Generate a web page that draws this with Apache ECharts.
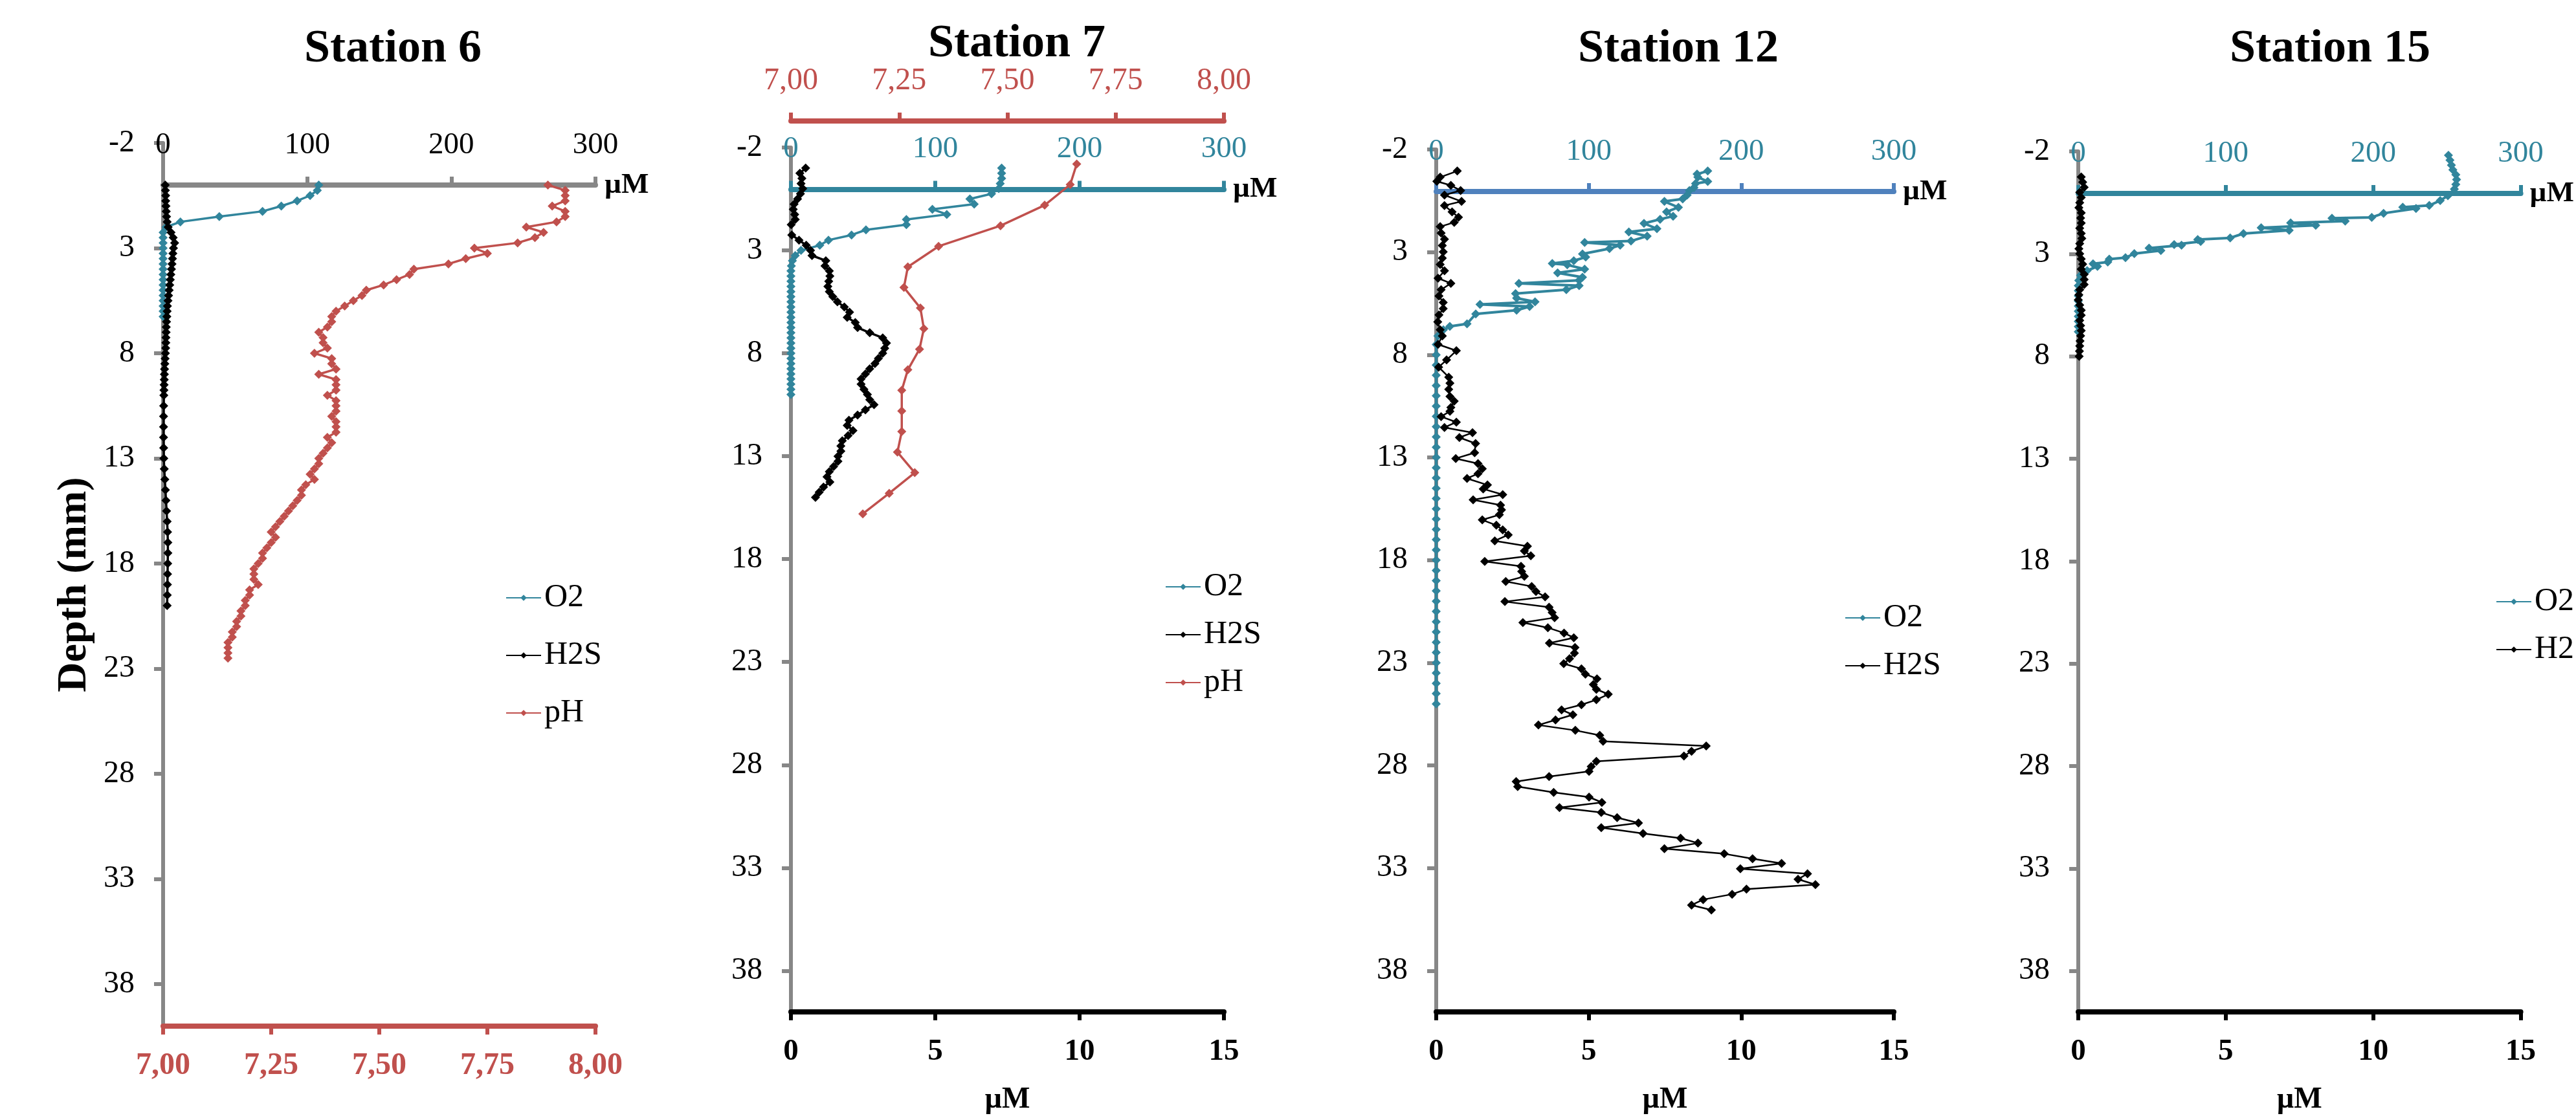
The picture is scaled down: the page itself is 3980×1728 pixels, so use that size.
<!DOCTYPE html>
<html>
<head>
<meta charset="utf-8">
<title>Microprofiles O2 / H2S / pH</title>
<script src="https://cdn.jsdelivr.net/npm/echarts@6/dist/echarts.min.js"></script>
<style>
  html, body { margin: 0; padding: 0; background: #fff; }
  #main { width: 3980px; height: 1728px; }
</style>
</head>
<body>
<div id="main"></div>
<script>
// ---- data (depth in mm, O2 / H2S in µM, pH units) ----
const stations = ['Station 6', 'Station 7', 'Station 12', 'Station 15'];
const depthTicks = [-2, 3, 8, 13, 18, 23, 28, 33, 38];

// Station 6
const s6O2Depth = [0, 0.25, 0.5, 0.75, 1, 1.25, 1.5, 1.75, 2, 2.25, 2.5, 2.75, 3, 3.25, 3.5, 3.75, 4, 4.25, 4.5, 4.75, 5, 5.25, 5.5, 5.75, 6, 6.25];
const s6O2 = [108, 107, 102, 93, 82, 69, 39, 12, 2, 0, 0, 0, 0, 0, 0, 0, 0, 0, 0, 0, 0, 0, 0, 0, 0, 0];
const s6H2SDepth = [0, 0.25, 0.5, 0.75, 1, 1.25, 1.5, 1.75, 2, 2.25, 2.5, 2.75, 3, 3.25, 3.5, 3.75, 4, 4.25, 4.5, 4.75,
  5, 5.25, 5.5, 5.75, 6, 6.25, 6.5, 6.75, 7, 7.25, 7.5, 7.75, 8, 8.25, 8.5, 8.75, 9, 9.25, 9.5, 9.75, 10,
  10.5, 11, 11.5, 12, 12.5, 13, 13.5, 14, 14.5, 15, 15.5, 16, 16.5, 17, 17.5, 18, 18.5, 19, 19.5, 20];
const s6H2S = [1.5, 1.6, 1.8, 1.8, 2.0, 2.2, 2.4, 2.8, 3.5, 5.5, 7.0, 8.0, 7.2, 6.8, 6.5, 6.2, 5.8, 5.4, 5.0, 4.6,
  4.2, 3.8, 3.4, 3.0, 2.8, 2.6, 2.4, 2.2, 2.1, 2.0, 1.9, 1.8, 1.6, 1.4, 1.2, 1.0, 0.9, 0.8, 0.7, 0.6, 0.5,
  0.4, 0.3, 0.3, 0.3, 0.4, 0.5, 0.8, 1.2, 1.6, 2.0, 2.4, 2.8, 3.1, 3.3, 3.3, 3.2, 3.1, 3.0, 2.9, 2.8];
const s6pHDepth = [0, 0.25, 0.5, 0.75, 1, 1.25, 1.5, 1.75, 2, 2.25,
  2.5, 2.75, 3, 3.25, 3.5, 3.75, 4, 4.25, 4.5, 4.75,
  5, 5.25, 5.5, 5.75, 6, 6.25, 6.5, 6.75, 7, 7.25,
  7.5, 7.75, 8, 8.25, 8.5, 8.75, 9, 9.25, 9.5, 9.75,
  10, 10.25, 10.5, 10.75, 11, 11.25, 11.5, 11.75, 12, 12.25,
  12.5, 12.75, 13, 13.25, 13.5, 13.75, 14, 14.25, 14.5, 14.75,
  15, 15.25, 15.5, 15.75, 16, 16.25, 16.5, 16.75, 17, 17.25,
  17.5, 17.75, 18, 18.25, 18.5, 18.75, 19, 19.25, 19.5, 19.75,
  20, 20.25, 20.5, 20.75, 21, 21.25, 21.5, 21.75, 22, 22.25,
  22.5];
const s6pH = [7.89, 7.93, 7.93, 7.93, 7.90, 7.93, 7.93, 7.91, 7.84, 7.88,
  7.86, 7.82, 7.72, 7.75, 7.70, 7.66, 7.58, 7.57, 7.54, 7.51,
  7.47, 7.46, 7.44, 7.42, 7.40, 7.39, 7.39, 7.38, 7.36, 7.37,
  7.37, 7.38, 7.35, 7.39, 7.39, 7.40, 7.36, 7.40, 7.40, 7.40,
  7.38, 7.40, 7.40, 7.40, 7.39, 7.40, 7.40, 7.40, 7.38, 7.39,
  7.38, 7.37, 7.36, 7.36, 7.35, 7.34, 7.35, 7.33, 7.32, 7.32,
  7.31, 7.30, 7.29, 7.28, 7.27, 7.26, 7.25, 7.26, 7.25, 7.24,
  7.23, 7.23, 7.22, 7.21, 7.21, 7.21, 7.22, 7.20, 7.20, 7.19,
  7.19, 7.18, 7.18, 7.17, 7.17, 7.16, 7.16, 7.15, 7.15, 7.15,
  7.15];

// Station 7
const s7O2Depth = [-1, -0.75, -0.5, -0.25, 0, 0.25, 0.5, 0.75, 1, 1.25, 1.5, 1.75, 2, 2.25, 2.5, 2.75, 3, 3.25, 3.5, 3.75,
  4, 4.25, 4.5, 4.75, 5, 5.25, 5.5, 5.75, 6, 6.25, 6.5, 6.75, 7, 7.25, 7.5, 7.75, 8, 8.25, 8.5, 8.75, 9, 9.25, 9.5, 9.75, 10];
const s7O2 = [146, 146, 146, 145, 144, 139, 124, 127, 98, 108, 80, 80, 52, 42, 26, 20, 7, 3, 1, 0.3,
  0, 0, 0, 0, 0, 0, 0, 0, 0, 0, 0, 0, 0, 0, 0, 0, 0, 0, 0, 0, 0, 0, 0, 0, 0];
const s7H2SDepth = [-1, -0.75, -0.5, -0.25, 0, 0.25, 0.5, 0.75, 1, 1.25, 1.5, 1.75, 2, 2.25, 2.5, 2.75,
  3, 3.25, 3.5, 3.75, 4, 4.25, 4.5, 4.75, 5, 5.25, 5.5, 5.75, 6, 6.25, 6.5, 6.75,
  7, 7.25, 7.5, 7.75, 8, 8.25, 8.5, 8.75, 9, 9.25, 9.5, 9.75, 10, 10.25, 10.5, 10.75,
  11, 11.25, 11.5, 11.75, 12, 12.25, 12.5, 12.75, 13, 13.25, 13.5, 13.75, 14, 14.25, 14.5, 14.75, 15];
const s7H2S = [0.51, 0.31, 0.38, 0.35, 0.41, 0.33, 0.23, 0.11, 0.08, 0.13, 0.15, 0.01, null, 0.03, 0.28, 0.53,
  0.68, 0.73, 1.21, 1.18, 1.33, 1.35, 1.31, 1.28, 1.33, 1.45, 1.61, 1.85, 2.03, 1.95, 2.23, 2.31,
  2.73, 3.18, 3.31, 3.25, 3.18, 3.03, 2.91, 2.73, 2.58, 2.43, 2.43, 2.53, 2.65, 2.73, 2.88, 2.58,
  2.31, 2.01, 1.95, 2.15, 1.98, 1.78, 1.73, 1.73, 1.63, 1.63, 1.48, 1.33, 1.25, 1.35, 1.13, 0.98, 0.85];
const s7pHDepth = [-1.2, -0.2, 0.8, 1.8, 2.8, 3.8, 4.8, 5.8, 6.8, 7.8, 8.8, 9.8, 10.8, 11.8, 12.8, 13.8, 14.8, 15.8];
const s7pH = [7.66, 7.645, 7.586, 7.484, 7.341, 7.27, 7.261, 7.299, 7.307, 7.297, 7.27, 7.256, 7.256, 7.256, 7.246, 7.286, 7.227, 7.166];

// Station 12
const s12O2Depth = [-0.95, -0.8, -0.65, -0.44, -0.34, -0.14, 0, 0.22, 0.41, 0.53,
  0.82, 1.04, 1.25, 1.4, 1.6, 1.86, 2.02, 2.22, 2.46, 2.53,
  2.66, 2.83, 3.09, 3.24, 3.42, 3.55, 3.62, 3.83, 4.01, 4.22,
  4.37, 4.52, 4.63, 4.83, 5.02, 5.24, 5.42, 5.55, 5.65, 5.83,
  6.01, 6.49, 6.62, 6.78, 7.08,
  7.5, 8, 8.5, 9, 9.5, 10, 10.5, 11, 11.5, 12, 12.5, 13, 13.5, 14, 14.5, 15, 15.5, 16,
  16.5, 17, 17.5, 18, 18.5, 19, 19.5, 20, 20.5, 21, 21.5, 22, 22.5, 23, 23.5, 24, 24.5, 25];
const s12O2 = [178, 171, 171.5, 178, 170, 169, 166, 164.5, 161.6, 149.6,
  158.8, 151, 155.3, 146.8, 136.2, 144.7, 126.3, 138.3, 127.7, 97.3,
  120.6, 113.6, 95.9, 98, 90.2, 76.1, 85.9, 97.3, 79.6, 95.9,
  93.7, 54.2, 93.7, 85.3, 52, 52.7, 64.8, 28.7, 61.2, 52.7,
  25.9, 20.2, 8.9, 4.7, 1.1,
  0, 0, 0, 0, 0, 0, 0, 0, 0, 0, 0, 0, 0, 0, 0, 0, 0, 0,
  0, 0, 0, 0, 0, 0, 0, 0, 0, 0, 0, 0, 0, 0, 0, 0, 0, 0];
const s12H2SDepth = [-0.95, -0.65, -0.45, -0.25, 0, 0.22, 0.53, 0.73, 1.04, 1.3,
  1.55, 1.76, 2.07, 2.37, 2.68, 2.99, 3.29, 3.6, 3.91, 4.27,
  4.52, 4.83, 5.14, 5.45, 5.75, 6.06, 6.4, 6.78, 7.08, 7.49,
  7.8, 8.25, 8.6, 9.09, 9.38, 9.68, 10.03, 10.26, 10.56,
  10.75, 11.01, 11.28, 11.54, 11.79, 12.03, 12.32, 12.77, 13.05,
  13.3, 13.55, 13.79, 14.02, 14.34, 14.53, 14.81, 15.06, 15.32, 15.55,
  15.79, 16.04, 16.3, 16.53, 16.77, 17.06, 17.32, 17.55, 17.79, 18.06,
  18.3, 18.55, 18.79, 19.04, 19.28, 19.53, 19.79, 20.02, 20.29, 20.55,
  20.8, 21.04, 21.29, 21.55, 21.78, 22.04, 22.25, 22.53, 22.8, 23.04,
  23.29, 23.55, 23.78, 24.06, 24.29, 24.53, 24.8, 25.04, 25.29, 25.53,
  25.78, 26.03, 26.29, 26.53, 26.82, 27.05, 27.31, 27.54, 27.8, 28.05,
  28.29, 28.54, 28.78, 29.03, 29.31, 29.54, 29.8, 30.05, 30.29, 30.54,
  30.8, 31.03, 31.31, 31.54, 31.78, 32.05, 32.3, 32.54, 32.77, 33.03,
  33.27, 33.54, 33.8, 34.02, 34.27, 34.53, 34.8, 35.04];
const s12H2S = [0.69, 0.13, 0.02, 0.48, 0.80, 0.27, 0.83, 0.27, 0.52, 0.73,
  0.59, 0.13, 0.16, 0.27, 0.20, 0.23, 0.20, 0.13, 0.27, 0.06,
  0.48, 0.16, 0.09, 0.23, 0.23, 0.09, 0.05, 0.13, 0.20, 0.06,
  0.66, 0.34, 0.08, 0.41, 0.45, 0.41, 0.45, 0.59, 0.48,
  0.45, 0.16, 0.66, 0.27, 1.19, 0.76, 1.29, 1.26, 0.64,
  1.37, 1.51, 1.37, 1.01, 1.68, 1.54, 2.18, 1.21, 2.11, 2.14,
  2.07, 1.51, 1.97, 2.18, 2.36, 1.92, 2.99, 2.89, 3.10, 1.59,
  2.78, 2.80, 2.89, 2.28, 3.13, 3.27, 3.57, 2.25, 3.70, 3.80,
  3.88, 2.84, 3.66, 4.19, 4.51, 3.71, 4.55, 4.53, 4.37, 4.18,
  4.76, 4.89, 5.27, 5.15, 5.25, 5.64, 5.25, 4.76, 4.11, 4.48,
  3.91, 3.35, 4.56, 5.36, 5.47, 8.85, 8.37, 8.12, 5.25, 5.08,
  5.01, 3.70, 2.62, 2.67, 3.85, 5.01, 5.43, 4.04, 5.41, 5.93,
  6.63, 5.41, 6.78, 8.01, 8.58, 7.48, 9.44, 10.37, 11.32, 9.97,
  12.17, 11.86, 12.43, 10.17, 9.70, 8.75, 8.37, 9.02];

// Station 15
const s15O2Depth = [-1.81, -1.57, -1.33, -1.1, -0.86, -0.63, -0.39, -0.16,
  0.16, 0.4, 0.64, 0.72, 0.79, 1.02, 1.22, 1.26, 1.4, 1.49,
  1.61, 1.73, 1.85, 2.01, 2.22, 2.3, 2.4, 2.55, 2.58, 2.72,
  2.84, 2.99, 3.19, 3.26, 3.4, 3.49, 3.61, 3.82, 4.05, 4.3,
  4.55, 4.8, 5.05, 5.3, 5.55, 5.8, 6.05, 6.3, 6.55, 6.8];
const s15O2 = [251, 252, 253, 254, 256, 256.5, 256, 255,
  250.6, 245.4, 238, 220, 229, 207, 199, 172, 181, 144,
  161, 124, 143, 112, 103, 81, 83, 65, 70, 48,
  56, 38, 32, 21, 20, 10, 13, 6, 1.5, 0.3,
  0, 0, 0, 0, 0, 0, 0, 0, 0, 0];
const s15H2SDepth = [-0.75, -0.5, -0.25, 0, 0.25, 0.5, 0.75, 1, 1.25, 1.5,
  1.75, 2, 2.25, 2.5, 2.75, 3, 3.25, 3.5, 3.75, 4,
  4.25, 4.5, 4.75, 5, 5.25, 5.5, 5.75, 6, 6.25, 6.5,
  6.75, 7, 7.25, 7.5, 7.75, 8];
const s15H2S = [0.1, 0.15, 0.2, 0.05, 0.1, 0.05, 0.02, 0.1, 0.08, 0.1,
  0.05, 0.1, 0.12, 0.05, 0.02, 0.05, 0.1, 0.15, 0.1, 0.2,
  0.2, 0.2, 0.05, 0.02, 0, 0.05, 0.1, 0.1, 0.05, 0.08,
  0.1, 0.08, 0.06, 0.05, 0.04, 0.03];

// ---- look ----
const FONT = "'Liberation Serif', 'Times New Roman', serif";
const TEAL = '#31859C';
const RED = '#C0504D';
const GREY = '#878787';
const BLUE = '#4F81BD';
const BLACK = '#000000';

const boxes = [
  { left: 252, top: 221, width: 668, height: 1365 },
  { left: 1222, top: 228, width: 669, height: 1352 },
  { left: 2219, top: 231, width: 707, height: 1367 },
  { left: 3211, top: 234, width: 731, height: 1364 }
];
const titleX = [607, 1571, 2593, 3600];
const titleTop = [40, 32, 40, 40];

// the µM (O2) axis sits at depth 0, 2 mm below the top of the depth axis
const zeroOffset = (b) => -b.height * 2 / 42;

function depthAxis(i) {
  return {
    type: 'value', gridIndex: i, inverse: true, min: -2, max: 40, interval: 5,
    axisLine: { show: true, onZero: false, lineStyle: { color: GREY, width: 6 } },
    axisTick: { show: true, length: 14, customValues: depthTicks, lineStyle: { color: GREY, width: 6 } },
    axisLabel: {
      fontFamily: FONT, fontSize: 48, color: BLACK, margin: 44, customValues: depthTicks,
      formatter: (v) => (v === 40 ? '' : String(v))
    },
    splitLine: { show: false },
    name: i === 0 ? 'Depth (mm)' : '',
    nameLocation: 'middle', nameGap: 105, nameRotate: 90,
    nameTextStyle: { fontFamily: FONT, fontSize: 64, fontWeight: 'bold', color: BLACK }
  };
}

function o2Axis(i, lineColor, labelColor) {
  return {
    type: 'value', gridIndex: i, position: 'top', offset: zeroOffset(boxes[i]),
    min: 0, max: 300, interval: 100,
    axisLine: { onZero: false, lineStyle: { color: lineColor, width: 8 } },
    axisTick: { length: 13, lineStyle: { color: lineColor, width: 6 } },
    axisLabel: { fontFamily: FONT, fontSize: 47, color: labelColor, margin: 38 },
    splitLine: { show: false },
    name: 'µM', nameLocation: 'end', nameGap: 14,
    nameTextStyle: { fontFamily: FONT, fontSize: 45, fontWeight: 'bold', color: BLACK }
  };
}

function h2sAxis(i) {
  return {
    type: 'value', gridIndex: i, position: 'bottom', min: 0, max: 15, interval: 5,
    axisLine: { onZero: false, lineStyle: { color: BLACK, width: 8 } },
    axisTick: { length: 13, lineStyle: { color: BLACK, width: 6 } },
    axisLabel: { fontFamily: FONT, fontSize: 47, fontWeight: 'bold', color: BLACK, margin: 38 },
    splitLine: { show: false },
    name: 'µM', nameLocation: 'middle', nameGap: 113,
    nameTextStyle: { fontFamily: FONT, fontSize: 46, fontWeight: 'bold', color: BLACK }
  };
}

function phAxis(i, position, bold, offset) {
  return {
    type: 'value', gridIndex: i, position: position, offset: offset,
    min: 7, max: 8, interval: 0.25,
    axisLine: { onZero: false, lineStyle: { color: RED, width: 8 } },
    axisTick: { length: 13, lineStyle: { color: RED, width: 6 } },
    axisLabel: {
      fontFamily: FONT, fontSize: 48, fontWeight: bold ? 'bold' : 'normal', color: RED, margin: 38,
      formatter: (v) => v.toFixed(2).replace('.', ',')
    },
    splitLine: { show: false }
  };
}

function profile(name, xIdx, yIdx, depths, values, color, width) {
  return {
    type: 'line', name: name, xAxisIndex: xIdx, yAxisIndex: yIdx,
    data: depths.map((d, k) => [values[k] == null ? '-' : values[k], d]),
    symbol: 'diamond', symbolSize: 14, showSymbol: true,
    lineStyle: { color: color, width: width },
    itemStyle: { color: color },
    connectNulls: false
  };
}

function legendAt(left, top, names, gap) {
  return {
    data: names, orient: 'vertical', left: left, top: top, padding: 0,
    itemGap: gap, itemWidth: 54, itemHeight: 12,
    textStyle: { fontFamily: FONT, fontSize: 50, color: BLACK }
  };
}

const chart = echarts.init(document.getElementById('main'));

chart.setOption({
  animation: false,
  backgroundColor: '#ffffff',
  title: stations.map((s, i) => ({
    text: s, left: titleX[i], top: titleTop[i], textAlign: 'center', padding: 0,
    textStyle: { fontFamily: FONT, fontSize: 72, fontWeight: 'bold', color: BLACK }
  })),
  grid: boxes.map((b) => ({ left: b.left, top: b.top, width: b.width, height: b.height, containLabel: false })),
  legend: [
    legendAt(781, 899, ['O2', 'H2S', 'pH'], 39),
    legendAt(1800, 882, ['O2', 'H2S', 'pH'], 24),
    legendAt(2850, 930, ['O2', 'H2S'], 24),
    legendAt(3856, 905, ['O2', 'H2S'], 24)
  ],
  xAxis: [
    o2Axis(0, GREY, BLACK),          // 0
    phAxis(0, 'bottom', true, 0),    // 1
    phAxis(1, 'top', false, 41),     // 2
    o2Axis(1, TEAL, TEAL),           // 3
    h2sAxis(1),                      // 4
    o2Axis(2, BLUE, TEAL),           // 5
    h2sAxis(2),                      // 6
    o2Axis(3, TEAL, TEAL),           // 7
    h2sAxis(3)                       // 8
  ],
  yAxis: [depthAxis(0), depthAxis(1), depthAxis(2), depthAxis(3)],
  series: [
    profile('O2', 0, 0, s6O2Depth, s6O2, TEAL, 3.5),
    profile('H2S', 0, 0, s6H2SDepth, s6H2S, BLACK, 3.5),
    profile('pH', 1, 0, s6pHDepth, s6pH, RED, 3.5),

    profile('O2', 3, 1, s7O2Depth, s7O2, TEAL, 3.5),
    profile('H2S', 4, 1, s7H2SDepth, s7H2S, BLACK, 3.5),
    profile('pH', 2, 1, s7pHDepth, s7pH, RED, 3.5),

    profile('O2', 5, 2, s12O2Depth, s12O2, TEAL, 4),
    profile('H2S', 6, 2, s12H2SDepth, s12H2S, BLACK, 2.5),

    profile('O2', 7, 3, s15O2Depth, s15O2, TEAL, 4),
    profile('H2S', 8, 3, s15H2SDepth, s15H2S, BLACK, 3.5)
  ]
});
</script>
</body>
</html>
